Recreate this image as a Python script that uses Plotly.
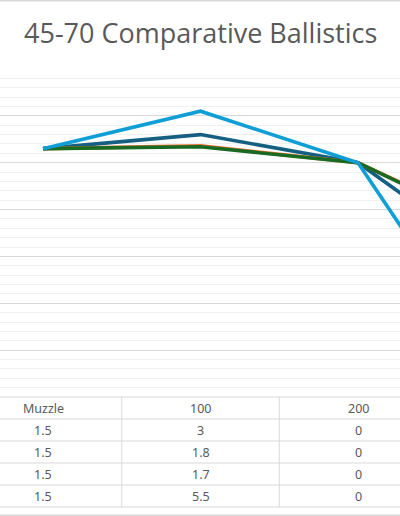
import plotly.graph_objects as go

categories = ["Muzzle", "100", "200", "300"]
series_names = ["Load A", "Load B", "Load C", "Load D"]
series_a = [1.5, 3, 0, -12]
series_b = [1.5, 1.8, 0, -7.8]
series_c = [1.5, 1.7, 0, -8]
series_d = [1.5, 5.5, 0, -25]
series_values = [series_a, series_b, series_c, series_d]
colors = ["#156082", "#E97132", "#196B24", "#0F9ED5"]

W, H = 400, 516
def py(px):
    return (H - px) / H

fig = go.Figure()
for name, vals, col in zip(series_names, series_values, colors):
    fig.add_trace(go.Scatter(x=categories, y=vals, mode="lines", name=name,
                             line=dict(color=col, width=3.6), showlegend=False))

shapes = []
ann = []
for ypx in [397, 419, 441, 463, 485, 507]:
    shapes.append(dict(type="line", xref="paper", yref="paper", x0=0, x1=1,
                       y0=py(ypx), y1=py(ypx), line=dict(color="#d9d9d9", width=1)))
for ypx in [0.5, 515.5]:
    shapes.append(dict(type="line", xref="paper", yref="paper", x0=0, x1=1,
                       y0=py(ypx), y1=py(ypx), line=dict(color="#d9d9d9", width=2)))
for xb in [-0.5, 0.5, 1.5, 2.5]:
    shapes.append(dict(type="line", xref="x", yref="paper", x0=xb, x1=xb,
                       y0=py(397), y1=py(507), line=dict(color="#d9d9d9", width=1)))

tfont = dict(family="Noto Sans, Open Sans, sans-serif", size=12.5, color="#595959")
for i, c in enumerate(categories):
    ann.append(dict(x=i, y=py(408), xref="x", yref="paper", text=c, showarrow=False,
                    font=tfont, xanchor="center", yanchor="middle"))
    for r, vals in enumerate(series_values):
        ann.append(dict(x=i, y=py(430 + 22 * r), xref="x", yref="paper", text=f"{vals[i]:g}",
                        showarrow=False, font=tfont, xanchor="center", yanchor="middle"))

ann.append(dict(x=0.5, y=py(32), xref="paper", yref="paper", text="45-70 Comparative Ballistics",
                showarrow=False, font=dict(family="Open Sans, sans-serif", size=27, color="#595959"),
                xanchor="center", yanchor="middle"))

fig.update_layout(
    width=W, height=H, margin=dict(l=0, r=0, t=0, b=0, pad=0, autoexpand=False),
    paper_bgcolor="white", plot_bgcolor="white",
    xaxis=dict(type="category", categoryorder="array", categoryarray=categories,
               range=[-43 / 157.5, (400 - 43) / 157.5], showgrid=False, showticklabels=False,
               zeroline=False, showline=False, ticks="", automargin=False),
    yaxis=dict(range=[-25, 10], domain=[py(397), py(69)], dtick=5, showticklabels=False,
               showgrid=True, gridcolor="#d9d9d9", gridwidth=1, zeroline=False, showline=False,
               minor=dict(dtick=1, showgrid=True, gridcolor="#f0f0f0", gridwidth=1), ticks="",
               automargin=False),
    shapes=shapes, annotations=ann,
)
fig.write_html("out.html", config={"displayModeBar": False},
               post_script="document.body.style.margin='0';document.body.style.overflow='hidden';")
